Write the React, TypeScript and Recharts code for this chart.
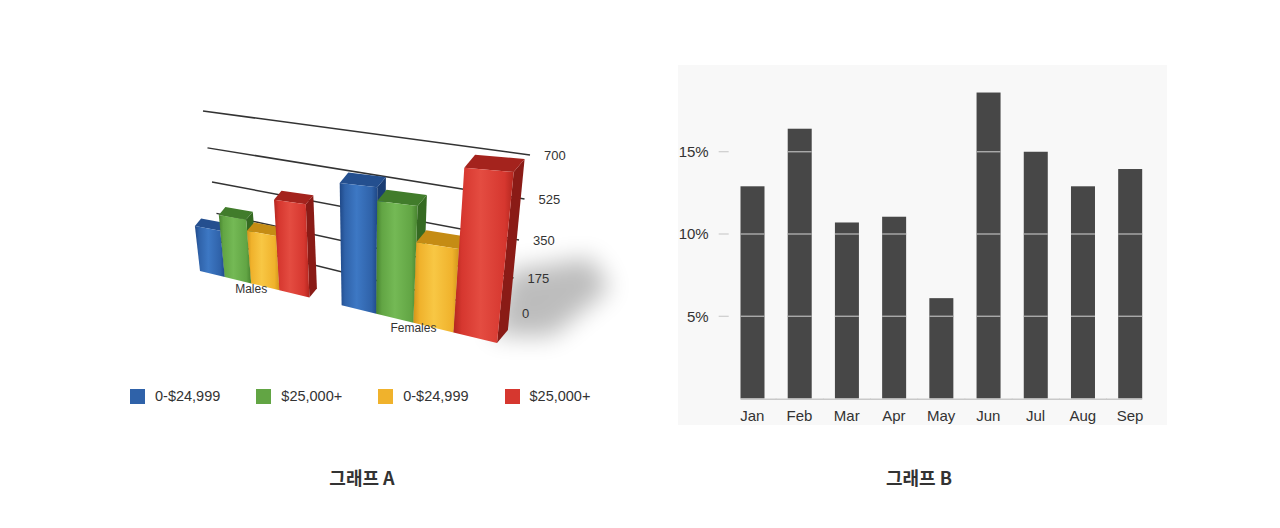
import { BarChart, Bar, XAxis, YAxis, CartesianGrid, Legend } from 'recharts'

// --- graph A: income bands by sex (3D look) ---
const groups = ['Males', 'Females']
const incomeLabels = ['0-$24,999', '$25,000+', '0-$24,999', '$25,000+']
const blueValues = [245, 550]
const greenValues = [325, 495]
const yellowValues = [270, 350]
const redValues = [440, 655]
const wallTicks = [0, 175, 350, 525, 700]

// --- graph B: monthly share ---
const months = ['Jan', 'Feb', 'Mar', 'Apr', 'May', 'Jun', 'Jul', 'Aug', 'Sep']
const monthShare = [12.9, 16.4, 10.7, 11.05, 6.1, 18.6, 15.0, 12.9, 13.95]
const shareTicks = [5, 10, 15]

const groupData = groups.map((group, i) => ({
  group,
  blue: blueValues[i],
  green: greenValues[i],
  yellow: yellowValues[i],
  red: redValues[i],
}))

const monthData = months.map((month, i) => ({ month, share: monthShare[i] }))

const SERIES = [
  { key: 'blue', name: incomeLabels[0], fill: '#2f62a9', light: '#3d78c4', dark: '#1f4887', top: '#244f8f', side: '#1a3d73' },
  { key: 'green', name: incomeLabels[1], fill: '#62a544', light: '#74b955', dark: '#47832f', top: '#417c2b', side: '#356a22' },
  { key: 'yellow', name: incomeLabels[2], fill: '#f0b22c', light: '#f8c744', dark: '#d2951a', top: '#c58c14', side: '#ab770c' },
  { key: 'red', name: incomeLabels[3], fill: '#d6372f', light: '#e44c41', dark: '#b3261f', top: '#a4231d', side: '#8a1b16' },
]
const seriesOrder = (item: any) => SERIES.findIndex(s => s.key === item.dataKey)

// flat plot area of chart A (from the margins below) and where the bars sit inside it
const FLAT = { left: 200, right: 500, top: 100, bottom: 300 }
const BAR_SPAN = { left: 215, right: 485 }
// screen quad of the bar front plane: bottom-left, bottom-right, top-right, top-left
const FRONT_QUAD = [[200, 271], [497, 343], [515, 158.7], [184.4, 134.5]]

function squareToQuad(q: number[][]) {
  const [[x0, y0], [x1, y1], [x2, y2], [x3, y3]] = q
  const dx1 = x1 - x2, dx2 = x3 - x2, dx3 = x0 - x1 + x2 - x3
  const dy1 = y1 - y2, dy2 = y3 - y2, dy3 = y0 - y1 + y2 - y3
  const den = dx1 * dy2 - dx2 * dy1
  const g = (dx3 * dy2 - dx2 * dy3) / den
  const h = (dx1 * dy3 - dx3 * dy1) / den
  const a = x1 - x0 + g * x1, b = x3 - x0 + h * x3
  const d = y1 - y0 + g * y1, e = y3 - y0 + h * y3
  return (s: number, t: number) => {
    const w = g * s + h * t + 1
    return [(a * s + b * t + x0) / w, (d * s + e * t + y0) / w]
  }
}

const frontMap = squareToQuad(FRONT_QUAD)
const projectFront = (x: number, y: number) =>
  frontMap((x - BAR_SPAN.left) / (BAR_SPAN.right - BAR_SPAN.left), (FLAT.bottom - y) / (FLAT.bottom - FLAT.top))

// back wall with the grid lines
function projectWall(x: number, y: number) {
  const t = (x - FLAT.left) / (FLAT.right - FLAT.left)
  const f = (FLAT.bottom - y) / (FLAT.bottom - FLAT.top)
  const xl = 221 - 18 * f, xr = 508 + 22 * f
  const yl = 242 - 109 * f - 22 * f * f, yr = 313 - 134 * f - 24 * f * f
  return [xl + (xr - xl) * t, yl + (yr - yl) * t]
}

const pts = (list: number[][]) => list.map(p => `${p[0].toFixed(1)},${p[1].toFixed(1)}`).join(' ')

function Box3D(props: any) {
  const { x, y, width, height, index, s } = props
  if (!height || height <= 0) return null
  const bl = projectFront(x, y + height)
  const br = projectFront(x + width, y + height)
  const tr = projectFront(x + width, y)
  const tl = projectFront(x, y)
  const w = br[0] - bl[0]
  const dx = 0.25 * w, dy = -0.3 * w
  const back = (p: number[]) => [p[0] + dx, p[1] + dy]
  const last = s.key === 'red' && index === groupData.length - 1
  const hPx = br[1] - tr[1]
  return (
    <g>
      {last && (
        <polygon
          points={pts([
            [br[0] - 4, br[1] - 8],
            [br[0] + 10, br[1] - 0.42 * hPx],
            [br[0] + 0.55 * hPx, br[1] - 0.5 * hPx],
            [br[0] + 0.66 * hPx, br[1] - 0.32 * hPx],
            [br[0] + 0.32 * hPx, br[1] - 0.04 * hPx],
          ])}
          fill="#000"
          opacity={0.26}
          filter="url(#softShadow)"
        />
      )}
      <polygon points={pts([tr, br, back(br), back(tr)])} fill={s.side} />
      <polygon points={pts([tl, tr, back(tr), back(tl)])} fill={s.top} />
      <polygon points={pts([bl, br, tr, tl])} fill={`url(#face-${s.key})`} />
    </g>
  )
}

function WallLine(props: any) {
  const { x1, y1, x2, y2 } = props
  const a = projectWall(x1, y1)
  const b = projectWall(x2, y2)
  return <line x1={a[0]} y1={a[1]} x2={b[0]} y2={b[1]} stroke="#333" strokeWidth={1.5} />
}

function WallTick(props: any) {
  const { y, payload } = props
  const p = projectWall(FLAT.right, y)
  return (
    <text x={p[0] + 14} y={p[1]} dy="0.35em" fontSize={13} fill="#333" fontFamily='"Liberation Sans", Arial, sans-serif'>
      {payload.value}
    </text>
  )
}

function GroupTick(props: any) {
  const { x, payload } = props
  const p = projectFront(x, FLAT.bottom)
  return (
    <text x={p[0]} y={p[1] + 5} textAnchor="middle" dy="0.35em" fontSize={12} fill="#333" fontFamily='"Liberation Sans", Arial, sans-serif'>
      {payload.value}
    </text>
  )
}

function IncomeLegend(props: any) {
  const payload = [...(props.payload || [])].sort((a: any, b: any) => seriesOrder(a) - seriesOrder(b))
  return (
    <div style={{ display: 'flex', alignItems: 'center', fontFamily: '"Liberation Sans", Arial, sans-serif', fontSize: 14.5, color: '#333' }}>
      {payload.map((item: any, i: number) => (
        <div key={i} style={{ display: 'flex', alignItems: 'center', marginRight: 36 }}>
          <span style={{ width: 15, height: 15, background: item.color, marginRight: 10, display: 'inline-block' }} />
          <span>{item.value}</span>
        </div>
      ))}
    </div>
  )
}

function ShareBar(props: any) {
  const { x, y, width, height, index, payload } = props
  if (!height) return null
  const bottom = y + height
  const unit = height / payload.share
  const from = index === 0 ? x : x - width / 2
  const to = index === monthData.length - 1 ? x + width : x + width * 1.5
  return (
    <g>
      <rect x={x} y={y} width={width} height={height} fill="#474747" />
      {shareTicks.filter(t => t < payload.share).map(t => (
        <line key={t} x1={x} x2={x + width} y1={bottom - t * unit} y2={bottom - t * unit} stroke="#b4b4b4" strokeWidth={1.3} />
      ))}
      <line x1={from} x2={to} y1={bottom + 0.75} y2={bottom + 0.75} stroke="#c9c9c9" strokeWidth={1.5} />
    </g>
  )
}

const titleStyle = {
  position: 'absolute' as const,
  top: 464,
  width: 200,
  textAlign: 'center' as const,
  fontFamily: '"Noto Sans CJK KR", sans-serif',
  fontWeight: 700,
  fontSize: 18,
  color: '#333',
}

export default function App() {
  return (
    <div style={{ position: 'relative', width: 1280, height: 528, margin: -8, background: '#fff', overflow: 'hidden' }}>
      <div style={{ position: 'absolute', left: 0, top: 0 }}>
        <BarChart
          width={640}
          height={440}
          data={groupData}
          margin={{ top: 100, right: 80, bottom: 110, left: 200 }}
          barCategoryGap="10%"
          barGap={0}
        >
          <defs>
            <filter id="softShadow" x="-50%" y="-50%" width="200%" height="200%">
              <feGaussianBlur stdDeviation="12" />
            </filter>
            {SERIES.map(s => (
              <linearGradient key={s.key} id={`face-${s.key}`} x1="0" y1="0" x2="1" y2="0">
                <stop offset="0%" stopColor={s.dark} />
                <stop offset="14%" stopColor={s.fill} />
                <stop offset="45%" stopColor={s.light} />
                <stop offset="85%" stopColor={s.fill} />
                <stop offset="100%" stopColor={s.dark} />
              </linearGradient>
            ))}
          </defs>
          <CartesianGrid vertical={false} horizontal={(p: any) => <WallLine key={p.key} {...p} />} />
          <XAxis dataKey="group" height={30} axisLine={false} tickLine={false} tick={<GroupTick />} />
          <YAxis
            orientation="right"
            width={60}
            domain={[0, 700]}
            ticks={wallTicks}
            axisLine={false}
            tickLine={false}
            tick={<WallTick />}
          />
          {SERIES.map(s => (
            <Bar
              key={s.key}
              dataKey={s.key}
              name={s.name}
              fill={s.fill}
              isAnimationActive={false}
              shape={(p: any) => <Box3D {...p} s={s} />}
            />
          ))}
          <Legend
            verticalAlign="middle"
            align="center"
            layout="horizontal"
            itemSorter={seriesOrder}
            wrapperStyle={{ top: 388, left: 130, width: 'auto' }}
            content={<IncomeLegend />}
          />
        </BarChart>
      </div>

      <div style={{ position: 'absolute', left: 678, top: 65, background: '#f8f8f8' }}>
        <BarChart
          width={489}
          height={360}
          data={monthData}
          margin={{ top: 4.5, right: 13.4, bottom: 0, left: 0 }}
          barCategoryGap="25%"
        >
          <XAxis
            dataKey="month"
            height={26.5}
            axisLine={false}
            tickLine={false}
            tickMargin={6}
            tick={{ fill: '#333', fontSize: 15, fontFamily: '"Liberation Sans", Arial, sans-serif' }}
          />
          <YAxis
            width={50.7}
            domain={[0, 20]}
            ticks={shareTicks}
            axisLine={false}
            tickLine={{ stroke: '#c4c4c4' }}
            tickSize={10}
            tickMargin={10}
            tickFormatter={(v: number) => `${v}%`}
            tick={{ fill: '#333', fontSize: 15, fontFamily: '"Liberation Sans", Arial, sans-serif' }}
          />
          <Bar dataKey="share" isAnimationActive={false} shape={(p: any) => <ShareBar {...p} />} />
        </BarChart>
      </div>

      <div style={{ ...titleStyle, left: 262 }}>그래프 A</div>
      <div style={{ ...titleStyle, left: 819 }}>그래프 B</div>
    </div>
  )
}
